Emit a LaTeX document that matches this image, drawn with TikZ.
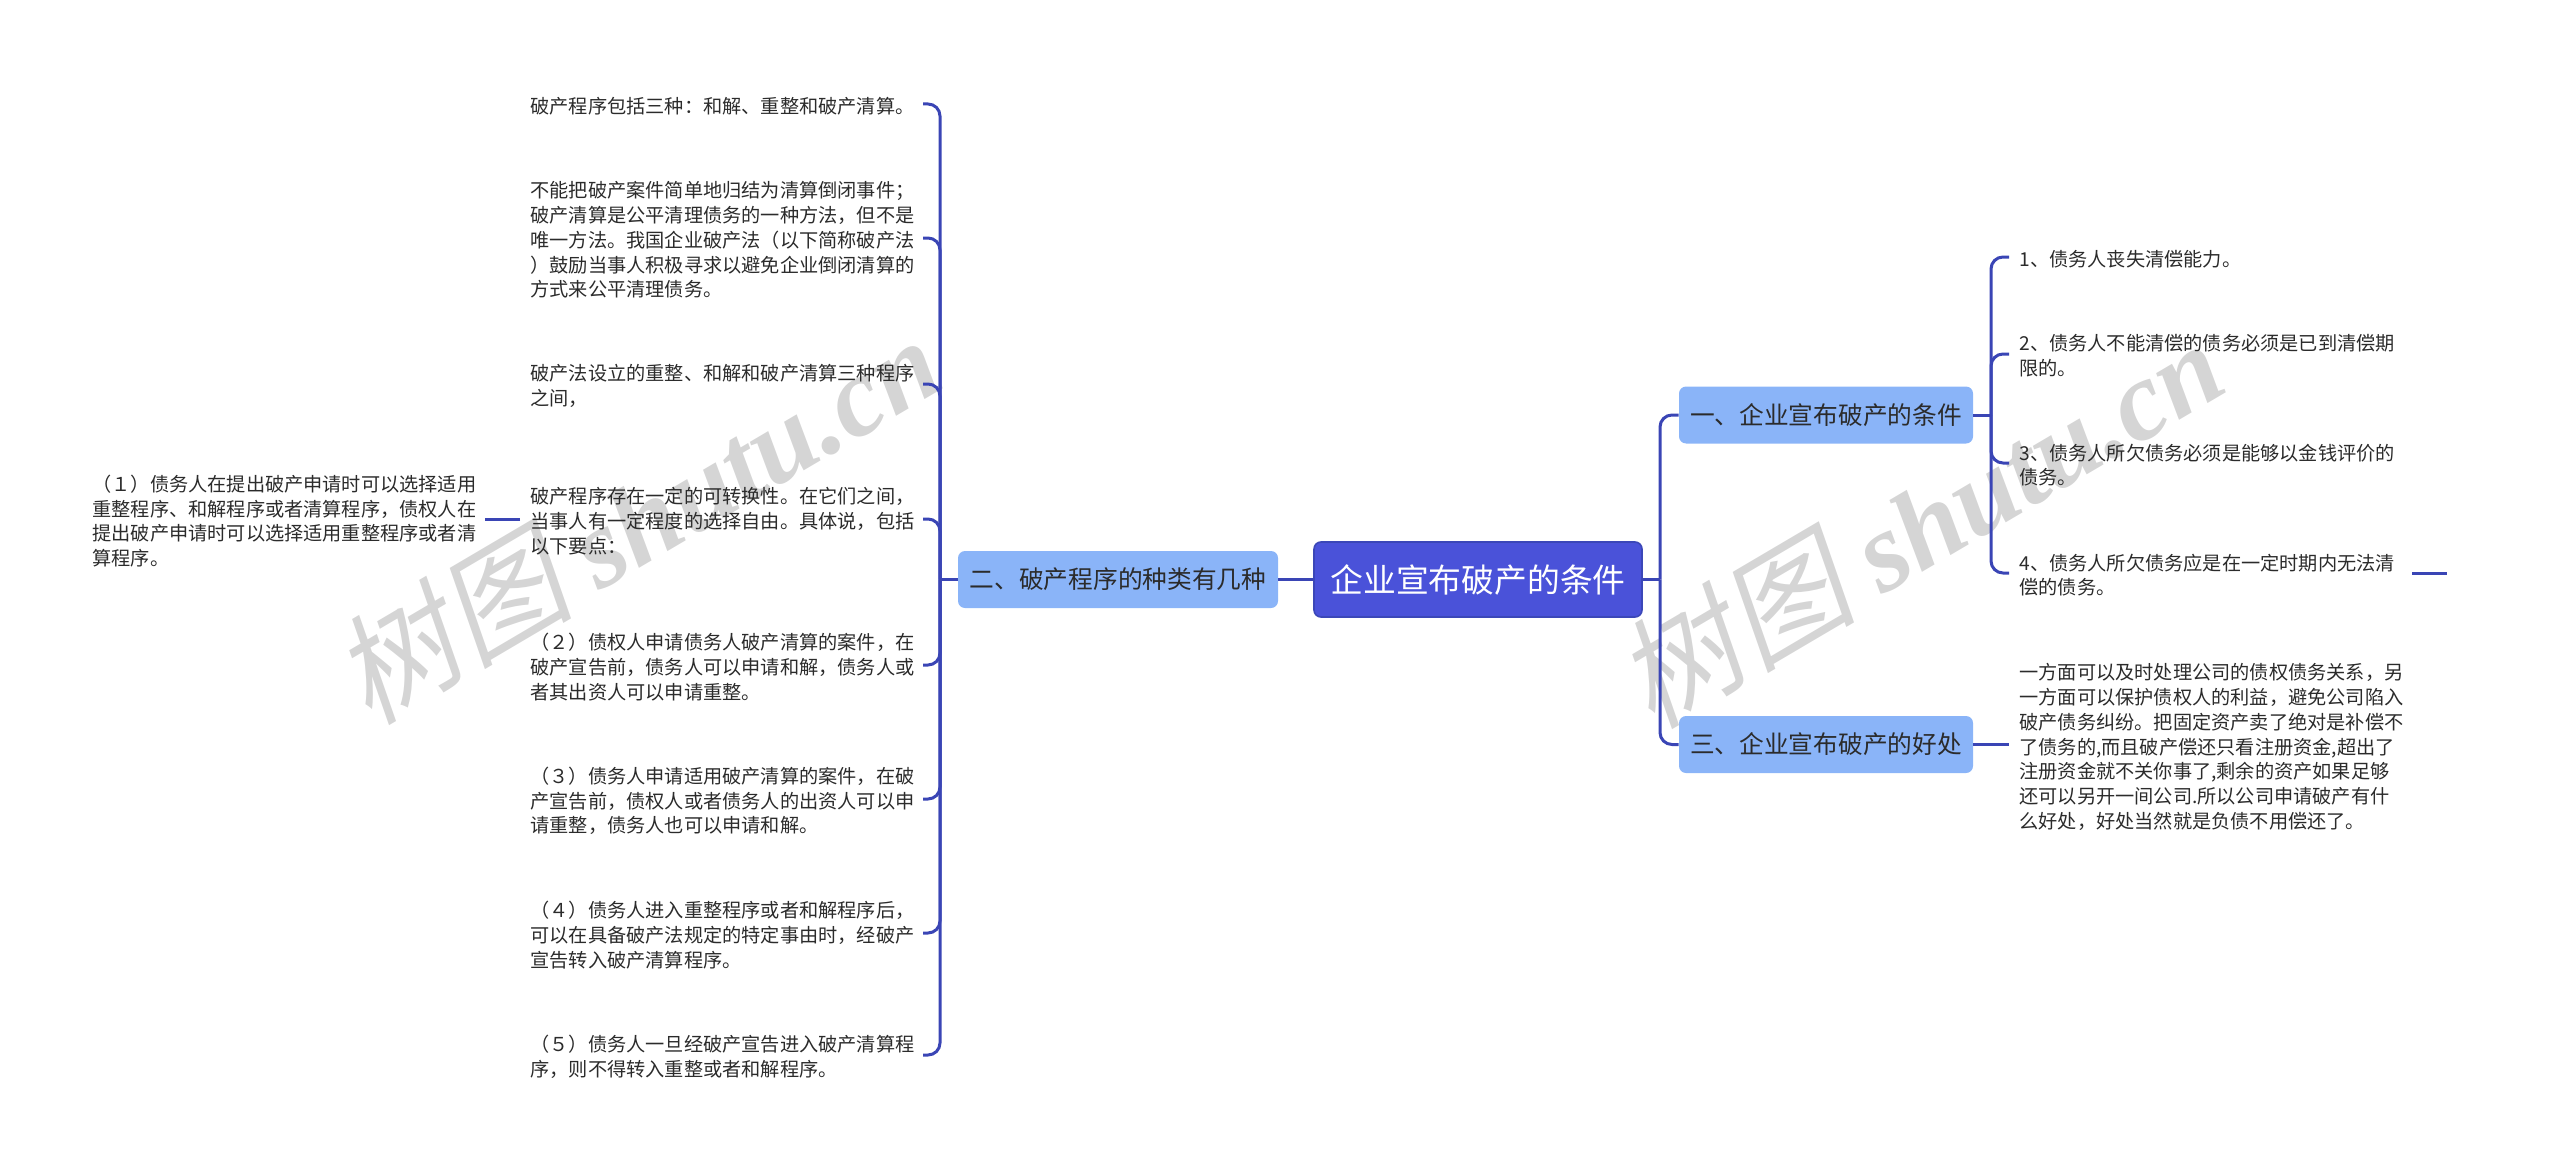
\documentclass[tikz,border=0pt]{standalone}
\usepackage{fontspec}
\setmainfont{Noto Sans CJK SC}
\newfontfamily\WmLatin{Liberation Serif}
\newfontfamily\WmCjk[FakeSlant=0.2]{Noto Sans CJK SC}
\usetikzlibrary{calc}
\definecolor{RootFill}{HTML}{4A52D9}
\definecolor{RootEdge}{HTML}{3B47B8}
\definecolor{BranchFill}{HTML}{8AB4F8}
\definecolor{LinkCol}{HTML}{3A45B5}
\definecolor{TextCol}{HTML}{2B2B2B}
\definecolor{WmCol}{HTML}{D5D5D5}

\begin{document}
\begin{tikzpicture}[
        %Environment config
        x=0.5pt,y=-0.5pt,
        %Environment styles
        RootCfg/.style={
            rectangle,rounded corners=3.5pt,
            fill=RootFill,draw=RootEdge,line width=.8pt,
            text=white,inner sep=0pt,
            minimum width=164pt,minimum height=37.5pt,
            font=\fontsize{16.4}{20}\selectfont
        },
        BranchCfg/.style={
            rectangle,rounded corners=3.5pt,
            fill=BranchFill,text=TextCol,inner sep=0pt,
            minimum height=28.5pt,
            font=\fontsize{12.35}{15}\selectfont
        },
        LeafCfg/.style={
            anchor=west,inner sep=0pt,text=TextCol,
            text width=191.5pt,align=left,
            font=\fontsize{9.6}{12.35}\selectfont
        },
        Link/.style={draw=LinkCol,line width=1.5pt},
        Fork/.style={Link,rounded corners=6pt},
        WmCfg/.style={
            text=WmCol,rotate=30.5,inner sep=0pt,
            font=\fontsize{60}{60}\selectfont
        }
    ]
    \useasboundingbox (0,0) rectangle (2560,1172);

    %Watermarks
    \node[WmCfg](Wm1) at (636,517){{\WmCjk 树图} {\WmLatin\bfseries\itshape\fontsize{56.5}{60}\selectfont shutu.cn}};
    \node[WmCfg](Wm2) at (1919,521){{\WmCjk 树图} {\WmLatin\bfseries\itshape\fontsize{56.5}{60}\selectfont shutu.cn}};

    %Main boxes
    \path
        (1478,579.5) node[RootCfg](Root){企业宣布破产的条件}
        (1118,579.5) node[BranchCfg,minimum width=160pt](Kinds){二、破产程序的种类有几种}
        (1826,415) node[BranchCfg,minimum width=147pt](Terms){一、企业宣布破产的条件}
        (1826,744.5) node[BranchCfg,minimum width=147pt](Gains){三、企业宣布破产的好处};

    %Left column
    \path
        (530,106) node[LeafCfg](Proc1){破产程序包括三种：和解、重整和破产清算。}
        (530,240) node[LeafCfg](Proc2){不能把破产案件简单地归结为清算倒闭事件；\\破产清算是公平清理债务的一种方法，但不是\\唯一方法。我国企业破产法（以下简称破产法\\）鼓励当事人积极寻求以避免企业倒闭清算的\\方式来公平清理债务。}
        (530,386) node[LeafCfg](Proc3){破产法设立的重整、和解和破产清算三种程序\\之间，}
        (530,521) node[LeafCfg](Proc4){破产程序存在一定的可转换性。在它们之间，\\当事人有一定程度的选择自由。具体说，包括\\以下要点：}
        (530,667) node[LeafCfg](Proc5){（２）债权人申请债务人破产清算的案件，在\\破产宣告前，债务人可以申请和解，债务人或\\者其出资人可以申请重整。}
        (530,801) node[LeafCfg](Proc6){（３）债务人申请适用破产清算的案件，在破\\产宣告前，债权人或者债务人的出资人可以申\\请重整，债务人也可以申请和解。}
        (530,935) node[LeafCfg](Proc7){（４）债务人进入重整程序或者和解程序后，\\可以在具备破产法规定的特定事由时，经破产\\宣告转入破产清算程序。}
        (530,1057) node[LeafCfg](Proc8){（５）债务人一旦经破产宣告进入破产清算程\\序，则不得转入重整或者和解程序。}
        (92,521) node[LeafCfg](Proc9){（１）债务人在提出破产申请时可以选择适用\\重整程序、和解程序或者清算程序，债权人在\\提出破产申请时可以选择适用重整程序或者清\\算程序。};

    %Right column
    \path
        (2019,259) node[LeafCfg](Term1){1、债务人丧失清偿能力。}
        (2019,356) node[LeafCfg](Term2){2、债务人不能清偿的债务必须是已到清偿期\\限的。}
        (2019,465) node[LeafCfg](Term3){3、债务人所欠债务必须是能够以金钱评价的\\债务。}
        (2019,575) node[LeafCfg](Term4){4、债务人所欠债务应是在一定时期内无法清\\偿的债务。}
        (2019,747) node[LeafCfg](Gain1){一方面可以及时处理公司的债权债务关系，另\\一方面可以保护债权人的利益，避免公司陷入\\破产债务纠纷。把固定资产卖了绝对是补偿不\\了债务的,而且破产偿还只看注册资金,超出了\\注册资金就不关你事了,剩余的资产如果足够\\还可以另开一间公司.所以公司申请破产有什\\么好处，好处当然就是负债不用偿还了。};

    %Fork points
    \coordinate (ForkL) at (940,579.5);
    \coordinate (ForkR) at (1660,579.5);
    \coordinate (ForkT) at (1991,415);

    \draw[Link] (Root.west) -- (Kinds.east);
    \draw[Link] (Root.east) -- (ForkR);
    \draw[Link] (Kinds.west) -- (ForkL);
    \draw[Link] (Terms.east) -- (ForkT);
    \draw[Fork] (Terms.west) -| (ForkR);
    \draw[Fork] (Gains.west) -| (ForkR);

    \foreach \leaf in {Proc1,Proc2,Proc3,Proc4,Proc5,Proc6,Proc7,Proc8}
        \draw[Fork] ([shift={(191.5pt+5pt,1pt)}]\leaf.west) -| (ForkL);
    \foreach \leaf in {Term1,Term2,Term3,Term4}
        \draw[Fork] ([shift={(-5pt,1pt)}]\leaf.west) -| (ForkT);

    \draw[Link] ([shift={(-5pt,1pt)}]Proc4.west) -- ([shift={(191.5pt+5pt,1pt)}]Proc9.west);
    \draw[Link] ([shift={(191.5pt+5pt,1pt)}]Term4.west) -- ++(17.5pt,0pt) coordinate (FreeEnd);
    \draw[Link] (Gains.east) -- ([xshift=-5pt]Gain1.west |- Gains.east);
\end{tikzpicture}
\end{document}
